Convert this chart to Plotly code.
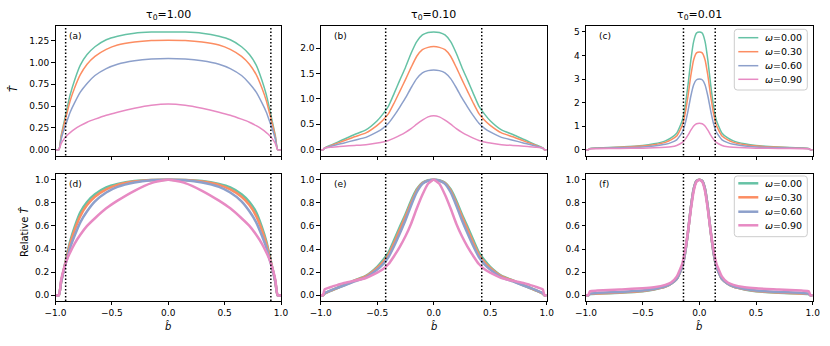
import numpy as np
import plotly.graph_objects as go
from plotly.subplots import make_subplots

# impact parameter grids (one per optical depth)
b_tau100 = [-1.0, -0.97, -0.95, -0.92, -0.9, -0.87, -0.83, -0.78, -0.72, -0.65, -0.55, -0.45, -0.3, -0.15, 0.0,
            0.15, 0.3, 0.45, 0.55, 0.65, 0.72, 0.78, 0.83, 0.87, 0.9, 0.92, 0.95, 0.97, 1.0]
b_tau010 = [-1.0, -0.98, -0.965, -0.9, -0.85, -0.8, -0.7, -0.6, -0.5, -0.45, -0.4, -0.35, -0.3, -0.25, -0.2, -0.15, -0.1, -0.05, 0.0,
            0.05, 0.1, 0.15, 0.2, 0.25, 0.3, 0.35, 0.4, 0.45, 0.5, 0.6, 0.7, 0.8, 0.85, 0.9, 0.965, 0.98, 1.0]
b_tau001 = [-1.0, -0.98, -0.965, -0.9, -0.7, -0.5, -0.4, -0.3, -0.25, -0.2, -0.15, -0.125, -0.1, -0.075, -0.05, -0.025, 0.0,
            0.025, 0.05, 0.075, 0.1, 0.125, 0.15, 0.2, 0.25, 0.3, 0.4, 0.5, 0.7, 0.9, 0.965, 0.98, 1.0]

# T-hat, tau0 = 1.00
T_tau100_w000 = [0, 0, 0.16, 0.34, 0.46, 0.63, 0.80, 0.97, 1.09, 1.18, 1.26, 1.30, 1.335, 1.348, 1.35,
                 1.348, 1.335, 1.30, 1.26, 1.18, 1.09, 0.97, 0.80, 0.63, 0.46, 0.34, 0.16, 0, 0]
T_tau100_w030 = [0, 0, 0.145, 0.31, 0.41, 0.56, 0.71, 0.86, 0.98, 1.07, 1.15, 1.20, 1.235, 1.252, 1.255,
                 1.252, 1.235, 1.20, 1.15, 1.07, 0.98, 0.86, 0.71, 0.56, 0.41, 0.31, 0.145, 0, 0]
T_tau100_w060 = [0, 0, 0.12, 0.25, 0.32, 0.43, 0.54, 0.66, 0.76, 0.85, 0.93, 0.98, 1.02, 1.04, 1.045,
                 1.04, 1.02, 0.98, 0.93, 0.85, 0.76, 0.66, 0.54, 0.43, 0.32, 0.25, 0.12, 0, 0]
T_tau100_w090 = [0, 0, 0.07, 0.13, 0.16, 0.195, 0.235, 0.275, 0.315, 0.35, 0.395, 0.43, 0.475, 0.51, 0.525,
                 0.51, 0.475, 0.43, 0.395, 0.35, 0.315, 0.275, 0.235, 0.195, 0.16, 0.13, 0.07, 0, 0]

# T-hat, tau0 = 0.10
T_tau010_w000 = [0, 0, 0.035, 0.10, 0.15, 0.20, 0.30, 0.39, 0.57, 0.70, 0.86, 1.11, 1.37, 1.62, 1.90, 2.13, 2.26, 2.31, 2.32,
                 2.31, 2.26, 2.13, 1.90, 1.62, 1.37, 1.11, 0.86, 0.70, 0.57, 0.39, 0.30, 0.20, 0.15, 0.10, 0.035, 0, 0]
T_tau010_w030 = [0, 0, 0.03, 0.09, 0.13, 0.17, 0.255, 0.33, 0.48, 0.58, 0.71, 0.92, 1.15, 1.38, 1.62, 1.84, 1.97, 2.015, 2.03,
                 2.015, 1.97, 1.84, 1.62, 1.38, 1.15, 0.92, 0.71, 0.58, 0.48, 0.33, 0.255, 0.17, 0.13, 0.09, 0.03, 0, 0]
T_tau010_w060 = [0, 0, 0.028, 0.074, 0.102, 0.129, 0.188, 0.243, 0.35, 0.42, 0.52, 0.67, 0.84, 1.02, 1.22, 1.40, 1.515, 1.557, 1.57,
                 1.557, 1.515, 1.40, 1.22, 1.02, 0.84, 0.67, 0.52, 0.42, 0.35, 0.243, 0.188, 0.129, 0.102, 0.074, 0.028, 0, 0]
T_tau010_w090 = [0, 0, 0.034, 0.05, 0.06, 0.07, 0.084, 0.10, 0.131, 0.151, 0.181, 0.228, 0.281, 0.342, 0.415, 0.503, 0.583, 0.647, 0.67,
                 0.647, 0.583, 0.503, 0.415, 0.342, 0.281, 0.228, 0.181, 0.151, 0.131, 0.10, 0.084, 0.07, 0.06, 0.05, 0.034, 0, 0]

# T-hat, tau0 = 0.01
T_tau001_w000 = [0, 0, 0.05, 0.07, 0.11, 0.175, 0.25, 0.375, 0.5, 0.7, 1.25, 1.85, 2.75, 3.8, 4.6, 4.95, 5.0,
                 4.95, 4.6, 3.8, 2.75, 1.85, 1.25, 0.7, 0.5, 0.375, 0.25, 0.175, 0.11, 0.07, 0.05, 0, 0]
T_tau001_w030 = [0, 0, 0.046, 0.066, 0.10, 0.154, 0.21, 0.31, 0.415, 0.58, 1.04, 1.54, 2.28, 3.15, 3.82, 4.11, 4.15,
                 4.11, 3.82, 3.15, 2.28, 1.54, 1.04, 0.58, 0.415, 0.31, 0.21, 0.154, 0.10, 0.066, 0.046, 0, 0]
T_tau001_w060 = [0, 0, 0.04, 0.06, 0.084, 0.12, 0.16, 0.23, 0.3, 0.42, 0.75, 1.11, 1.65, 2.28, 2.76, 2.97, 3.0,
                 2.97, 2.76, 2.28, 1.65, 1.11, 0.75, 0.42, 0.3, 0.23, 0.16, 0.12, 0.084, 0.06, 0.04, 0, 0]
T_tau001_w090 = [0, 0, 0.039, 0.045, 0.056, 0.067, 0.078, 0.1, 0.123, 0.18, 0.31, 0.44, 0.62, 0.83, 1.01, 1.10, 1.12,
                 1.10, 1.01, 0.83, 0.62, 0.44, 0.31, 0.18, 0.123, 0.1, 0.078, 0.067, 0.056, 0.045, 0.039, 0, 0]

tau_labels = ["1.00", "0.10", "0.01"]
omega_labels = ["0.00", "0.30", "0.60", "0.90"]
dotted_b = [0.91, 0.425, 0.14]
panel_letters = ["(a)", "(b)", "(c)", "(d)", "(e)", "(f)"]

COLORS = ["#66c2a5", "#fc8d62", "#8da0cb", "#e78ac3"]
LINE_W = [1.5, 2.5]  # top row, bottom row

grids = [b_tau100, b_tau010, b_tau001]
series = [
    [T_tau100_w000, T_tau100_w030, T_tau100_w060, T_tau100_w090],
    [T_tau010_w000, T_tau010_w030, T_tau010_w060, T_tau010_w090],
    [T_tau001_w000, T_tau001_w030, T_tau001_w060, T_tau001_w090],
]

W, H = 830, 346


def px(x):
    return x / W


def py(y):
    return 1 - y / H


fig = make_subplots(rows=2, cols=3)

for c in range(3):
    for k in range(4):
        T = np.array(series[c][k], dtype=float)
        rel = T / T.max()
        for r, y in ((1, T), (2, rel)):
            fig.add_trace(go.Scatter(
                x=grids[c], y=y, mode="lines",
                line=dict(color=COLORS[k], width=LINE_W[r - 1], shape="spline", smoothing=0.5),
                name="ω=" + omega_labels[k], showlegend=False,
            ), row=r, col=c + 1)

# axes geometry (pixels on the 830x346 canvas)
xdom = [(55.5, 281.0), (320.7, 546.7), (586.0, 812.7)]
ydom = [(26.0, 155.6), (174.0, 301.0)]

axis_common = dict(
    showgrid=False, zeroline=False, showline=True, mirror=True, automargin=False,
    linecolor="black", linewidth=0.8, ticks="outside", ticklen=3.5,
    tickwidth=0.8, tickcolor="black", tickfont=dict(size=9, color="black"),
)

top_ticks = [
    ([0, 0.25, 0.5, 0.75, 1.0, 1.25], ".2f"),
    ([0, 0.5, 1.0, 1.5, 2.0], ".1f"),
    ([0, 1, 2, 3, 4, 5], "d"),
]

for r in range(2):
    for c in range(3):
        idx = r * 3 + c + 1
        xa = "xaxis" if idx == 1 else f"xaxis{idx}"
        ya = "yaxis" if idx == 1 else f"yaxis{idx}"
        x0, x1 = xdom[c]
        yt, yb = ydom[r]
        if r == 0:
            ymax = max(max(s) for s in series[c])
            tv, tf = top_ticks[c]
        else:
            ymax = 1.0
            tv, tf = [0, 0.2, 0.4, 0.6, 0.8, 1.0], ".1f"
        fig.update_layout({
            xa: dict(axis_common, domain=[px(x0), px(x1)], range=[-1, 1],
                     tickvals=[-1, -0.5, 0, 0.5, 1], tickformat=".1f",
                     showticklabels=(r == 1)),
            ya: dict(axis_common, domain=[py(yb), py(yt)],
                     range=[-0.05 * ymax, 1.05 * ymax], tickvals=tv, tickformat=tf),
        })
        xref = "x" if idx == 1 else f"x{idx}"
        yref = "y" if idx == 1 else f"y{idx}"
        for sgn in (-1, 1):
            fig.add_shape(type="line", xref=xref, yref=yref + " domain",
                          x0=sgn * dotted_b[c], x1=sgn * dotted_b[c], y0=0, y1=1,
                          line=dict(color="black", width=1.5, dash="1.5px,2px"))
        fig.add_annotation(text=panel_letters[idx - 1], xref=xref + " domain", yref=yref + " domain",
                           x=0.05, y=0.92, xanchor="left", yanchor="middle",
                           showarrow=False, font=dict(size=9, color="black"))


def rounded_box(x0, y0, x1, y1, rad=3):
    # rounded rectangle path in paper coordinates, corners given in pixels
    rx, ry = rad / W, rad / H
    X0, X1, Y0, Y1 = px(x0), px(x1), py(y1), py(y0)
    return (f"M{X0 + rx},{Y0} L{X1 - rx},{Y0} Q{X1},{Y0} {X1},{Y0 + ry} "
            f"L{X1},{Y1 - ry} Q{X1},{Y1} {X1 - rx},{Y1} L{X0 + rx},{Y1} "
            f"Q{X0},{Y1} {X0},{Y1 - ry} L{X0},{Y0 + ry} Q{X0},{Y0} {X0 + rx},{Y0} Z")


# legends drawn by hand in panels (c) and (f)
legend_boxes = [(29.3, 90.0), (176.0, 236.7)]
legend_rows = [[37.7, 51.7, 65.7, 79.3], [183.3, 197.3, 211.7, 225.3]]
for r in range(2):
    top, bot = legend_boxes[r]
    fig.add_shape(type="path", xref="paper", yref="paper", layer="above",
                  path=rounded_box(734.3, top, 807.3, bot),
                  fillcolor="rgba(255,255,255,0.8)", line=dict(color="#cccccc", width=1))
    for k in range(4):
        yk = legend_rows[r][k]
        fig.add_shape(type="line", xref="paper", yref="paper", layer="above",
                      x0=px(738.3), x1=px(758.3), y0=py(yk), y1=py(yk),
                      line=dict(color=COLORS[k], width=LINE_W[r]))
        fig.add_annotation(text="<i>ω</i>=" + omega_labels[k], xref="paper", yref="paper",
                           x=px(763.0), y=py(yk), xanchor="left", yanchor="middle",
                           showarrow=False, font=dict(size=9.5, color="black"))

for c in range(3):
    x0, x1 = xdom[c]
    fig.add_annotation(text="τ<sub>0</sub>=" + tau_labels[c], xref="paper", yref="paper",
                       x=px((x0 + x1) / 2), y=py(15), xanchor="center", yanchor="middle",
                       showarrow=False, font=dict(size=11, color="black"))
    fig.add_annotation(text="<i>b̂</i>", xref="paper", yref="paper",
                       x=px((x0 + x1) / 2), y=py(326), xanchor="center", yanchor="middle",
                       showarrow=False, font=dict(size=10, color="black"))

fig.add_annotation(text="<i>T̂</i>", xref="paper", yref="paper", x=px(13), y=py(89),
                   xanchor="center", yanchor="middle", textangle=-90, showarrow=False,
                   font=dict(size=10, color="black"))
fig.add_annotation(text="Relative <i>T̂</i>", xref="paper", yref="paper", x=px(24), y=py(232),
                   xanchor="center", yanchor="middle", textangle=-90, showarrow=False,
                   font=dict(size=10, color="black"))

fig.update_layout(
    width=W, height=H,
    margin=dict(l=0, r=0, t=0, b=0, autoexpand=False),
    paper_bgcolor="white", plot_bgcolor="white",
    font=dict(family="DejaVu Sans", color="black"),
    showlegend=False,
)

# drop the browser's default page margin so the canvas sits at the window origin
fig.write_html("out.html", config={"displayModeBar": False},
               post_script="document.body.style.margin='0';")
